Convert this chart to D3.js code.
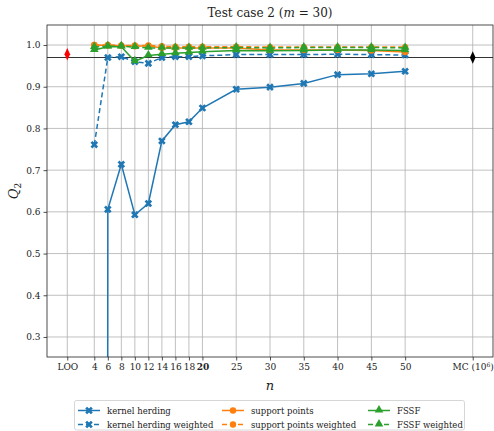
<!DOCTYPE html>
<html>
<head>
<meta charset="utf-8">
<script src="https://cdn.jsdelivr.net/npm/d3@7"></script>
<style>
  html, body { margin: 0; padding: 0; background: #fff; }
  svg { display: block; }
  text { font-family: "DejaVu Serif", "Liberation Serif", serif; fill: #222; }
</style>
</head>
<body>
<script>
// Design sizes n and Q2 values per method
const nValues = [4, 6, 8, 10, 12, 14, 16, 18, 20, 25, 30, 35, 40, 45, 50];
const kernelHerding = [-40, 0.606, 0.714, 0.593, 0.620, 0.770, 0.809, 0.816, 0.849, 0.894, 0.899, 0.908, 0.929, 0.931, 0.937];
const kernelHerdingWeighted = [0.761, 0.970, 0.972, 0.960, 0.956, 0.970, 0.972, 0.972, 0.974, 0.977, 0.977, 0.977, 0.978, 0.977, 0.976];
const supportPoints = [1.000, 0.999, 0.998, 0.997, 0.998, 0.993, 0.993, 0.993, 0.993, 0.993, 0.988, 0.988, 0.988, 0.987, 0.983];
const supportPointsWeighted = [1.000, 1.000, 0.999, 0.999, 0.999, 0.997, 0.996, 0.996, 0.996, 0.996, 0.995, 0.995, 0.995, 0.995, 0.995];
const fssf = [0.988, 0.996, 0.996, 0.961, 0.975, 0.978, 0.980, 0.982, 0.984, 0.987, 0.986, 0.987, 0.988, 0.988, 0.987];
const fssfWeighted = [0.995, 0.997, 0.997, 0.995, 0.993, 0.993, 0.993, 0.993, 0.993, 0.994, 0.993, 0.994, 0.994, 0.994, 0.993];

// Reference values: leave-one-out estimate and Monte Carlo (10^6) estimate
const looN = 0, looQ2 = 0.978;
const mcN = 60, mcQ2 = 0.970;

// Tick positions and labels
const xTickValues = [0, 4, 6, 8, 10, 12, 14, 16, 18, 20, 25, 30, 35, 40, 45, 50, 60];
const xTickLabels = ["LOO", "4", "6", "8", "10", "12", "14", "16", "18", "20", "25", "30", "35", "40", "45", "50", "MC"];
const yTickValues = [0.3, 0.4, 0.5, 0.6, 0.7, 0.8, 0.9, 1.0];

const series = [
  { name: "kernel herding", values: kernelHerding, color: "#1f77b4", dash: null, marker: "X" },
  { name: "kernel herding weighted", values: kernelHerdingWeighted, color: "#1f77b4", dash: "5,3", marker: "X" },
  { name: "support points", values: supportPoints, color: "#ff7f0e", dash: null, marker: "o" },
  { name: "support points weighted", values: supportPointsWeighted, color: "#ff7f0e", dash: "5,3", marker: "o" },
  { name: "FSSF", values: fssf, color: "#2ca02c", dash: null, marker: "^" },
  { name: "FSSF weighted", values: fssfWeighted, color: "#2ca02c", dash: "5,3", marker: "^" }
];

const W = 494, H = 431;
const plot = { left: 47, right: 493, top: 25, bottom: 357 };
const tickFont = "Liberation Serif, serif";

const svg = d3.select("body").append("svg").attr("width", W).attr("height", H);

const x = d3.scaleLinear().domain([-3, 63]).range([plot.left, plot.right]);
const y = d3.scaleLinear().domain([0.252, 1.048]).range([plot.bottom, plot.top]);

svg.append("defs").append("clipPath").attr("id", "clip")
  .append("rect")
  .attr("x", plot.left).attr("y", plot.top)
  .attr("width", plot.right - plot.left).attr("height", plot.bottom - plot.top);

// Grid
const grid = svg.append("g").attr("clip-path", "url(#clip)");
grid.selectAll("line.vx").data(xTickValues).join("line")
  .attr("x1", d => x(d)).attr("x2", d => x(d))
  .attr("y1", plot.top).attr("y2", plot.bottom)
  .attr("stroke", "#b0b0b0").attr("stroke-width", 0.8);
grid.selectAll("line.hy").data(yTickValues).join("line")
  .attr("y1", d => y(d)).attr("y2", d => y(d))
  .attr("x1", plot.left).attr("x2", plot.right)
  .attr("stroke", "#b0b0b0").attr("stroke-width", 0.8);

// Monte Carlo reference level
grid.append("line")
  .attr("x1", plot.left).attr("x2", plot.right)
  .attr("y1", y(mcQ2)).attr("y2", y(mcQ2))
  .attr("stroke", "#333").attr("stroke-width", 1.1);

// Axes
const xAxis = d3.axisBottom(x).tickValues(xTickValues).tickSize(3.5).tickPadding(3)
  .tickFormat((d, i) => xTickLabels[i]);
const gx = svg.append("g").attr("transform", `translate(0,${plot.bottom})`).call(xAxis);
gx.select(".domain").remove();
gx.selectAll("text").attr("font-size", 9).attr("font-family", tickFont).attr("fill", "#222");
gx.selectAll(".tick line").attr("stroke", "#222").attr("stroke-width", 0.8);
gx.selectAll(".tick").filter(d => d === 20).select("text").attr("font-weight", "bold");
gx.selectAll(".tick").filter(d => d === 60).select("text").each(function () {
  const t = d3.select(this);
  t.text("MC (10");
  t.append("tspan").attr("dy", -3).attr("font-size", 6).text("6");
  t.append("tspan").attr("dy", 3).text(")");
});

const yAxis = d3.axisLeft(y).tickValues(yTickValues).tickSize(3.5).tickPadding(3)
  .tickFormat(d3.format(".1f"));
const gy = svg.append("g").attr("transform", `translate(${plot.left},0)`).call(yAxis);
gy.select(".domain").remove();
gy.selectAll("text").attr("font-size", 9).attr("font-family", tickFont).attr("fill", "#222");
gy.selectAll(".tick line").attr("stroke", "#222").attr("stroke-width", 0.8);

// Markers
const markerPath = {
  X: d3.symbol().type(d3.symbolCross).size(36)(),
  o: d3.symbol().type(d3.symbolCircle).size(32)(),
  "^": d3.symbol().type(d3.symbolTriangle).size(32)()
};
function markerTransform(m, px, py) {
  if (m === "X") return `translate(${px},${py}) rotate(45)`;
  if (m === "^") return `translate(${px},${py - 0.6})`;
  return `translate(${px},${py})`;
}

const line = d3.line().x(d => x(d.n)).y(d => y(d.v));
const dataLayer = svg.append("g").attr("clip-path", "url(#clip)");

series.forEach(s => {
  const pts = nValues.map((n, i) => ({ n, v: s.values[i] }));
  const g = dataLayer.append("g");
  g.append("path").datum(pts)
    .attr("d", line)
    .attr("fill", "none")
    .attr("stroke", s.color)
    .attr("stroke-width", 1.5)
    .attr("stroke-dasharray", s.dash);
  g.selectAll("path.mk").data(pts).join("path")
    .attr("class", "mk")
    .attr("d", markerPath[s.marker])
    .attr("transform", d => markerTransform(s.marker, x(d.n), y(d.v)))
    .attr("fill", s.color);
});

// LOO and MC diamonds
const diamond = d3.symbol().type(d3.symbolDiamond).size(38)();
dataLayer.append("path").attr("d", diamond)
  .attr("transform", `translate(${x(looN)},${y(looQ2)}) scale(0.85,1.1)`)
  .attr("fill", "#ff0000");
dataLayer.append("path").attr("d", diamond)
  .attr("transform", `translate(${x(mcN)},${y(mcQ2)}) scale(0.85,1.1)`)
  .attr("fill", "#000");

// Frame
svg.append("rect")
  .attr("x", plot.left).attr("y", plot.top)
  .attr("width", plot.right - plot.left).attr("height", plot.bottom - plot.top)
  .attr("fill", "none").attr("stroke", "#222").attr("stroke-width", 0.8);

// Title
const title = svg.append("text")
  .attr("x", (plot.left + plot.right) / 2).attr("y", 17)
  .attr("text-anchor", "middle").attr("font-size", 12);
title.append("tspan").text("Test case 2 (");
title.append("tspan").attr("font-style", "italic").text("m");
title.append("tspan").text(" = 30)");

// Axis labels
svg.append("text")
  .attr("x", (plot.left + plot.right) / 2).attr("y", 390)
  .attr("text-anchor", "middle").attr("font-size", 13).attr("font-style", "italic")
  .text("n");

const yl = svg.append("text")
  .attr("transform", `translate(18,${(plot.top + plot.bottom) / 2}) rotate(-90)`)
  .attr("text-anchor", "middle").attr("font-size", 13);
yl.append("tspan").attr("font-style", "italic").text("Q");
yl.append("tspan").attr("font-size", 9).attr("dy", 3).text("2");

// Legend
const legend = svg.append("g");
legend.append("rect")
  .attr("x", 74.5).attr("y", 400.5).attr("width", 390).attr("height", 29.5)
  .attr("rx", 2).attr("fill", "#fff").attr("stroke", "#cccccc").attr("stroke-width", 0.8);

const colX = [78, 222, 368];
const rowY = [410.5, 424.5];
series.forEach((s, i) => {
  const col = Math.floor(i / 2), row = i % 2;
  const lx = colX[col], ly = rowY[row];
  const g = legend.append("g");
  g.append("line")
    .attr("x1", lx).attr("x2", lx + 22).attr("y1", ly).attr("y2", ly)
    .attr("stroke", s.color).attr("stroke-width", 1.5)
    .attr("stroke-dasharray", s.dash);
  g.append("path").attr("d", markerPath[s.marker])
    .attr("transform", markerTransform(s.marker, lx + 11, ly))
    .attr("fill", s.color);
  g.append("text")
    .attr("x", lx + 29).attr("y", ly + 3)
    .attr("font-size", 8.5)
    .text(s.name);
});
</script>
</body>
</html>
